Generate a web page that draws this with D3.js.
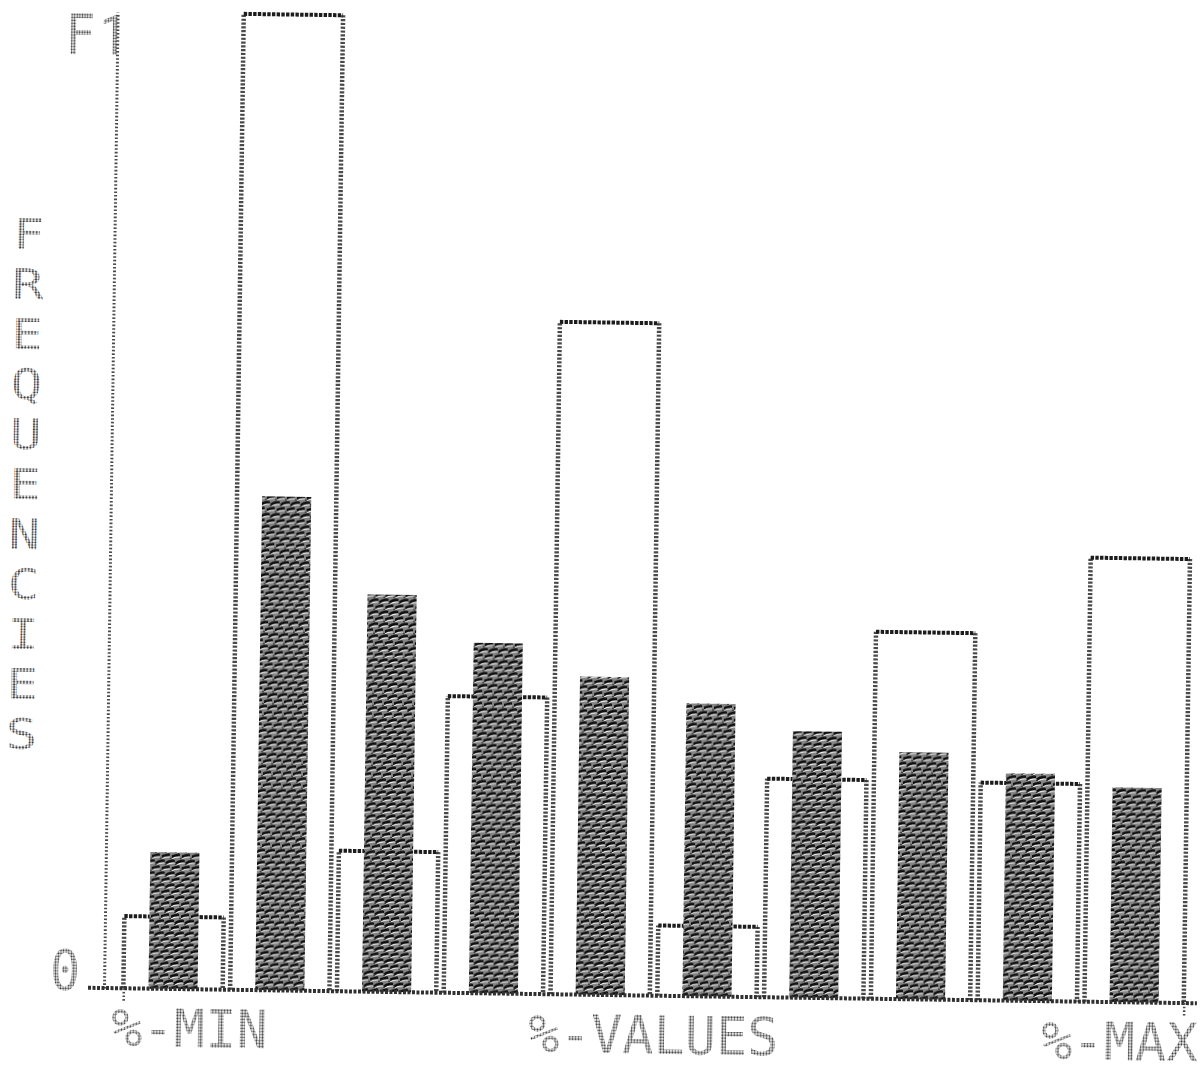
<!DOCTYPE html>
<html>
<head>
<meta charset="utf-8">
<script src="https://cdn.jsdelivr.net/npm/d3@7"></script>
<style>
  html, body { margin: 0; padding: 0; background: #ffffff; }
  svg { display: block; }
</style>
</head>
<body>
<svg id="chart" width="1200" height="1074"></svg>
<script>
// Percent classes from the minimum to the maximum value
const classes = ["1", "2", "3", "4", "5", "6", "7", "8", "9", "10"];
// Observed frequencies (open bars), in percent of F1
const observed = [7.4, 100, 14.4, 30.4, 68.9, 7.2, 22.4, 37.6, 22.3, 45.5];
// Reference frequencies (shaded bars), in percent of F1
const reference = [14.0, 50.6, 40.7, 35.9, 32.6, 30.0, 27.3, 25.3, 23.3, 22.0];
// Axis ticks and their labels
const yTickValues = [0, 100];
const yTickLabels = ["0", "F1"];
const xTickValues = [0, 50, 100];
const xTickLabels = ["%-MIN", "%-VALUES", "%-MAX"];
const yTitle = "FREQUENCIES";

const svg = d3.select("#chart");
svg.append("rect").attr("width", 1200).attr("height", 1074).attr("fill", "#ffffff");

const defs = svg.append("defs");

// dot-matrix ink used for the lettering
const dots = defs.append("pattern").attr("id", "dots")
  .attr("patternUnits", "userSpaceOnUse").attr("width", 2.6).attr("height", 2.6);
dots.append("circle").attr("cx", 1.3).attr("cy", 1.3).attr("r", 1.0).attr("fill", "#3c3c3c");

// woven hatch of the shaded bars: dark slanted dashes on a grey mesh
const weave = defs.append("pattern").attr("id", "weave")
  .attr("patternUnits", "userSpaceOnUse").attr("width", 10).attr("height", 12);
weave.append("rect").attr("width", 10).attr("height", 12).attr("fill", "#858585");
const dashes = ["M-1,4.4 Q2.5,1.6 8,2.0", "M4,10.4 Q7.5,7.6 13,8.0", "M-6,10.4 Q-2.5,7.6 3,8.0"];
dashes.forEach(p => weave.append("path").attr("d", p).attr("transform", "translate(0,2)")
  .attr("fill", "none").attr("stroke", "#f4f4f4").attr("stroke-width", 1.2));
dashes.forEach(p => weave.append("path").attr("d", p)
  .attr("fill", "none").attr("stroke", "#0c0c0c").attr("stroke-width", 2.5));
[[9.0, 5.6], [4.0, 11.6], [1.0, 6.8], [6.5, 0.8]].forEach(([cx, cy]) =>
  weave.append("circle").attr("cx", cx).attr("cy", cy).attr("r", 0.9).attr("fill", "#2a2a2a"));

// the printout sits slightly skewed on the page
const frame = svg.append("g").attr("transform", "rotate(0.8,103,988)");

const axisX = 104;
const x = d3.scaleBand().domain(classes).range([119.6, 1187.6]);
const y = d3.scaleLinear().domain([0, 100]).range([988, 12]);
const bw = x.bandwidth();
const openW = bw * 0.93;
const fillW = bw * 0.46;

// y axis
const yAxis = frame.append("g").attr("transform", `translate(${axisX},0)`)
  .call(d3.axisLeft(y).tickValues(yTickValues).tickSize(0).tickSizeOuter(0)
    .tickFormat((d, i) => yTickLabels[i]));
yAxis.select(".domain").attr("stroke", "#4a4a4a").attr("stroke-width", 3)
  .attr("stroke-dasharray", "1.6 2.0");
yAxis.selectAll(".tick text").each(function (d, i) {
  const t = d3.select(this);
  t.attr("x", null).attr("dy", null).attr("fill", "url(#dots)")
    .style("font-family", "'DejaVu Sans Mono', monospace").style("font-size", "50px");
  if (i === 0) {
    t.attr("text-anchor", "end").attr("transform", "translate(-24,2) scale(1,1.12)");
  } else {
    // "F" then the "1" whose stem runs into the axis
    t.text(null).attr("text-anchor", "start")
      .attr("transform", "translate(-52,42) scale(1,1.12)");
    t.append("tspan").text(yTickLabels[i][0]);
    t.append("tspan").text(yTickLabels[i].slice(1))
      .style("font-family", "Roboto, sans-serif").attr("dx", 4);
  }
});

// open bars: side walls and top edge
const open = frame.append("g").selectAll("g").data(classes).join("g");
open.append("path")
  .attr("d", (c, i) => {
    const l = x(c) + (bw - openW) / 2, r = l + openW, t = y(observed[i]);
    return `M${l},${y(0)}V${t}M${r},${t}V${y(0)}`;
  })
  .attr("fill", "none").attr("stroke", "#4a4a4a").attr("stroke-width", 4.5)
  .attr("stroke-dasharray", "2.2 1.6");
open.append("line")
  .attr("x1", c => x(c) + (bw - openW) / 2)
  .attr("x2", c => x(c) + (bw + openW) / 2)
  .attr("y1", (c, i) => y(observed[i]))
  .attr("y2", (c, i) => y(observed[i]))
  .attr("stroke", "#1c1c1c").attr("stroke-width", 4).attr("stroke-dasharray", "3.4 1.3");

// shaded bars
frame.append("g").selectAll("rect").data(classes).join("rect")
  .attr("x", c => x(c) + (bw - fillW) / 2)
  .attr("width", fillW)
  .attr("y", (c, i) => y(reference[i]))
  .attr("height", (c, i) => y(0) - y(reference[i]))
  .attr("fill", "url(#weave)");

// baseline
frame.append("line").attr("x1", 88).attr("x2", 1197).attr("y1", y(0)).attr("y2", y(0))
  .attr("stroke", "#303030").attr("stroke-width", 4).attr("stroke-dasharray", "3 1.5");

// x axis: %-MIN at the first class edge, %-MAX at the last one
const tickMin = x(classes[0]) + (bw - openW) / 2;
const tickMax = x(classes[classes.length - 1]) + (bw + openW) / 2;
const xPos = d3.scaleLinear().domain([0, 100]).range([tickMin, tickMax]);
const xAxis = frame.append("g").attr("transform", `translate(0,${y(0)})`)
  .call(d3.axisBottom(xPos).tickValues(xTickValues).tickSize(14).tickSizeOuter(0)
    .tickFormat((d, i) => xTickLabels[i]));
xAxis.select(".domain").remove();
xAxis.selectAll(".tick line").attr("stroke", "#4a4a4a").attr("stroke-width", 2.5)
  .attr("stroke-dasharray", "1.6 2")
  .attr("display", d => (d === 0 || d === 100) ? null : "none");
xAxis.selectAll(".tick text").each(function (d, i) {
  const anchor = i === 0 ? "start" : i === xTickLabels.length - 1 ? "end" : "middle";
  const dx = i === 0 ? -12 : i === xTickLabels.length - 1 ? 14 : 0;
  d3.select(this).attr("y", null).attr("dy", null)
    .attr("text-anchor", anchor).attr("fill", "url(#dots)")
    .style("font-family", "'DejaVu Sans Mono', monospace").style("font-size", "46px")
    .attr("transform", `translate(${dx},58) scale(1.13,1.15)`);
});

// vertical title, one upright letter under the other
frame.append("g").selectAll("text").data(yTitle.split("")).join("text")
  .text(ch => ch)
  .attr("text-anchor", "middle")
  .attr("transform", (ch, i) => `translate(18,${250 + i * 50}) scale(1.25,1)`)
  .attr("fill", "url(#dots)")
  .style("font-family", "'DejaVu Sans Mono', monospace").style("font-size", "42px");
</script>
</body>
</html>
